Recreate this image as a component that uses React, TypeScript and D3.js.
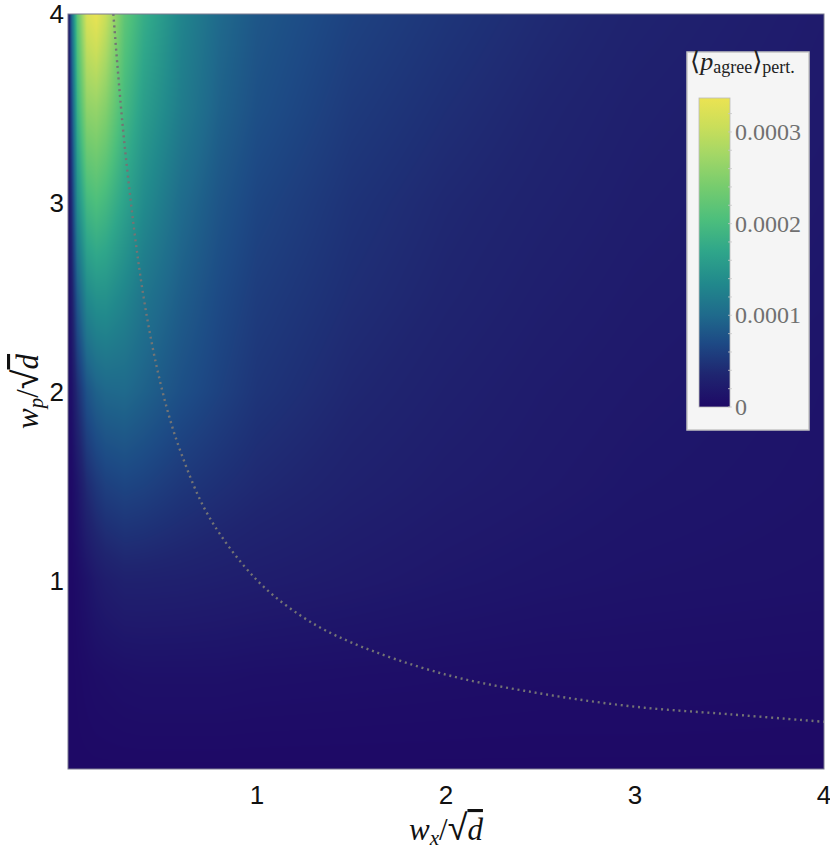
import React, { useEffect, useRef } from "react";
import * as d3 from "d3";

// sample positions of the density grid (w_x / sqrt d and w_p / sqrt d)
const xSamples = [0, 0.02, 0.05, 0.1, 0.15, 0.2, 0.3, 0.4, 0.6, 0.8, 1, 1.5, 2, 2.5, 3, 4];
const ySamples = [0, 0.5, 1, 1.5, 2, 2.5, 3, 3.5, 4];

// <p_agree>_pert in units of 1e-4, one row per ySample
const rowY0 = [0, 0, 0, 0, 0, 0, 0, 0, 0, 0, 0, 0, 0, 0, 0, 0];
const rowY05 = [0, 0, 0.01, 0.03, 0.05, 0.06, 0.08, 0.09, 0.09, 0.09, 0.08, 0.07, 0.06, 0.05, 0.05, 0.04];
const rowY1 = [0, 0, 0.04, 0.12, 0.2, 0.25, 0.3, 0.3, 0.29, 0.27, 0.25, 0.21, 0.17, 0.14, 0.12, 0.1];
const rowY15 = [0, 0.02, 0.15, 0.4, 0.52, 0.6, 0.65, 0.62, 0.52, 0.45, 0.39, 0.3, 0.24, 0.2, 0.16, 0.12];
const rowY2 = [0, 0.1, 0.42, 0.78, 0.92, 0.98, 1.0, 0.92, 0.75, 0.62, 0.5, 0.37, 0.29, 0.23, 0.19, 0.13];
const rowY25 = [0, 0.25, 0.85, 1.35, 1.45, 1.45, 1.3, 1.12, 0.88, 0.7, 0.57, 0.43, 0.34, 0.27, 0.22, 0.16];
const rowY3 = [0, 0.45, 1.4, 1.95, 2.05, 1.95, 1.65, 1.38, 1.02, 0.8, 0.65, 0.48, 0.38, 0.31, 0.25, 0.18];
const rowY35 = [0, 0.7, 1.85, 2.6, 2.65, 2.5, 1.95, 1.6, 1.2, 0.92, 0.75, 0.55, 0.44, 0.35, 0.28, 0.2];
const rowY4 = [0, 1.0, 2.2, 3.2, 3.35, 3.05, 2.2, 1.8, 1.3, 1.0, 0.82, 0.62, 0.5, 0.4, 0.32, 0.22];

// dotted reference curve w_x * w_p = d
const curveX = [0.24, 0.3, 0.4, 0.5, 0.6, 0.75, 1, 1.25, 1.5, 2, 2.5, 3, 3.5, 4];
const curveY = [4, 3.3, 2.5, 2, 1.67, 1.33, 1, 0.8, 0.67, 0.5, 0.4, 0.33, 0.29, 0.25];

const xTicks = [1, 2, 3, 4];
const yTicks = [1, 2, 3, 4];
const barTicks = [0, 1, 2, 3];
const barTickLabels = ["0", "0.0001", "0.0002", "0.0003"];
const barMax = 3.37;

const stopVals = [0, 0.35, 0.7, 1.0, 1.35, 1.7, 2.05, 2.4, 2.75, 3.05, 3.37];
const stopColors = ["#1e0966", "#1f2570", "#1d4a85", "#1f6a8c", "#21898c", "#2fa68a", "#4dbf7c", "#76cc6e", "#a3d766", "#c9de5a", "#ebe352"];

const rows = [rowY0, rowY05, rowY1, rowY15, rowY2, rowY25, rowY3, rowY35, rowY4];

const left = 68, right = 824, top = 14, bottom = 769;

const App = () => {
  const imgRef = useRef<SVGImageElement>(null);

  const x = d3.scaleLinear().domain([0, 4]).range([left, right]);
  const y = d3.scaleLinear().domain([0, 4]).range([bottom, top]);
  const color = d3.scaleLinear<string>().domain(stopVals).range(stopColors).interpolate(d3.interpolateRgb).clamp(true);

  useEffect(() => {
    const w = right - left, h = bottom - top;
    const canvas = document.createElement("canvas");
    canvas.width = w;
    canvas.height = h;
    const ctx = canvas.getContext("2d")!;
    const img = ctx.createImageData(w, h);
    const xi = d3.scaleLinear().domain(xSamples).range(xSamples.map((_, i) => i)).clamp(true);
    const yi = d3.scaleLinear().domain(ySamples).range(ySamples.map((_, i) => i)).clamp(true);
    const colCache: [number, number][] = [];
    for (let px = 0; px < w; px++) {
      const f = xi(x.invert(left + px + 0.5));
      const i0 = Math.min(Math.floor(f), xSamples.length - 2);
      colCache.push([i0, f - i0]);
    }
    for (let py = 0; py < h; py++) {
      const g = yi(y.invert(top + py + 0.5));
      const j0 = Math.min(Math.floor(g), ySamples.length - 2);
      const tj = g - j0;
      const r0 = rows[j0], r1 = rows[j0 + 1];
      for (let px = 0; px < w; px++) {
        const [i0, ti] = colCache[px];
        const a = r0[i0] * (1 - ti) + r0[i0 + 1] * ti;
        const b = r1[i0] * (1 - ti) + r1[i0 + 1] * ti;
        const v = a * (1 - tj) + b * tj;
        const c = d3.rgb(color(v));
        const k = (py * w + px) * 4;
        img.data[k] = c.r;
        img.data[k + 1] = c.g;
        img.data[k + 2] = c.b;
        img.data[k + 3] = 255;
      }
    }
    ctx.putImageData(img, 0, 0);
    d3.select(imgRef.current).attr("href", canvas.toDataURL());
  }, []);

  const curve = d3
    .line<number>()
    .x((d) => x(curveX[d]))
    .y((_, i) => y(curveY[i]))
    .curve(d3.curveCatmullRom)(curveX.map((_, i) => i));

  // colour bar
  const barLeft = 699, barW = 31;
  const by = d3.scaleLinear().domain([0, barMax]).range([407, 98]);
  const gradStops = stopVals.map((v) => ({ off: v / barMax, c: color(v) }));

  const serif = "'Liberation Serif', 'DejaVu Serif', serif";
  const sans = "'Liberation Sans', Arial, sans-serif";

  const axisLabel = (sub: string) => (
    <>
      <tspan fontStyle="italic">w</tspan>
      <tspan fontStyle="italic" fontSize={21} dy={5}>{sub}</tspan>
      <tspan dy={-5}>/</tspan>
      <tspan fontFamily={sans} fontSize={36}>√</tspan>
      <tspan fontStyle="italic" textDecoration="overline">d</tspan>
    </>
  );

  return (
    <svg width={830} height={852} style={{ position: "absolute", left: 0, top: 0 }}>
      <defs>
        <linearGradient id="bar" x1="0" y1="1" x2="0" y2="0">
          {gradStops.map((s, i) => (
            <stop key={i} offset={s.off} stopColor={s.c} />
          ))}
        </linearGradient>
        <clipPath id="plot">
          <rect x={left} y={top} width={right - left} height={bottom - top} />
        </clipPath>
      </defs>
      <rect x={0} y={0} width={830} height={852} fill="#fff" />
      <image ref={imgRef} x={left} y={top} width={right - left} height={bottom - top} preserveAspectRatio="none" />
      <path d={curve || ""} fill="none" stroke="#747474" strokeWidth={2.4} strokeDasharray="2 3.8" clipPath="url(#plot)" />
      <rect x={left} y={top} width={right - left} height={bottom - top} fill="none" stroke="#7a7a90" strokeWidth={1} />

      {xTicks.map((t) => (
        <text key={t} x={x(t)} y={804} textAnchor="middle" fontFamily={sans} fontSize={26} fill="#111">
          {t}
        </text>
      ))}
      {yTicks.map((t) => (
        <text key={t} x={64} y={y(t)} dy="0.36em" textAnchor="end" fontFamily={sans} fontSize={26} fill="#111">
          {t}
        </text>
      ))}

      <text x={(left + right) / 2} y={840} textAnchor="middle" fontFamily={serif} fontSize={31} fill="#111">
        {axisLabel("x")}
      </text>
      <text transform={`translate(38,${(top + bottom) / 2}) rotate(-90)`} textAnchor="middle" fontFamily={serif} fontSize={31} fill="#111">
        {axisLabel("p")}
      </text>

      <rect x={687} y={52} width={122} height={378} fill="#f5f5f5" stroke="#c4c4c4" strokeWidth={1.5} />
      <text x={690} y={70} fontFamily={serif} fontSize={26} fill="#222">
        <tspan>⟨</tspan>
        <tspan fontStyle="italic">p</tspan>
        <tspan fontSize={18} dy={3}>agree</tspan>
        <tspan dy={-3}>⟩</tspan>
        <tspan fontSize={18} dy={3}>pert.</tspan>
      </text>
      <rect x={barLeft} y={98} width={barW} height={309} fill="url(#bar)" stroke="#bbb" strokeWidth={0.8} />
      {d3.range(0, barMax, 0.2).map((v, i) => (
        <line key={i} x1={barLeft + barW - 2} x2={barLeft + barW + 2} y1={by(v)} y2={by(v)} stroke="#c8c8c8" strokeWidth={0.8} />
      ))}
      {barTicks.map((t, i) => (
        <text key={t} x={735} y={by(t)} dy="0.33em" fontFamily={serif} fontSize={24} fill="#707070">
          {barTickLabels[i]}
        </text>
      ))}
    </svg>
  );
};

export default App;
